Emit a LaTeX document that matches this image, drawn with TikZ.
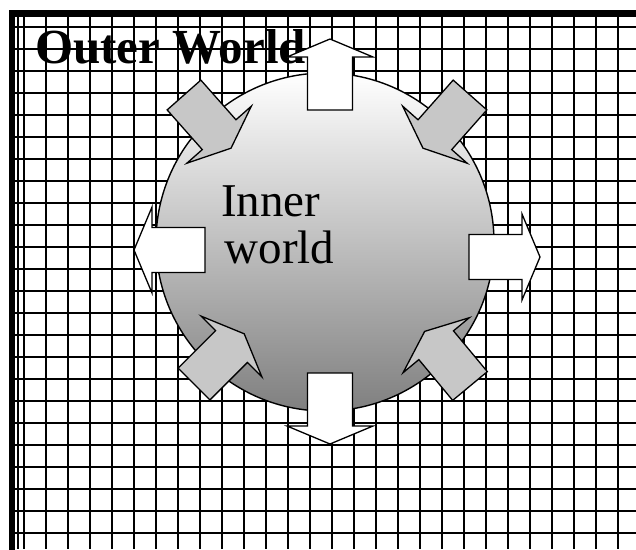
\documentclass[tikz,border=0pt]{standalone}
\usepackage{fontspec}
\setmainfont{Liberation Serif}
\usetikzlibrary{positioning}

\begin{document}
\begin{tikzpicture}[x=1pt,y=-1pt,
  gl/.style={line width=2.4pt},
  ball/.style={draw,circle,inner sep=0pt,line width=1.4pt,
    top color=white,middle color=black!18,bottom color=black!50},
  lbl/.style={inner sep=0pt,anchor=base west},
  barr/.pic={\draw[line width=1.3pt,line join=miter,pic actions]
    (0,-22.5)--(53,-22.5)--(53,-43)--(71,0)--(53,43)--(53,22.5)--(0,22.5)--cycle;}]
\useasboundingbox[fill=white] (0,0) rectangle (636,549);
% outer world grid
\begin{scope}
\clip (0,0) rectangle (636,549);
\foreach \i in {0,...,27} \draw[gl] (24+22*\i,13) -- (24+22*\i,549);
\foreach \j in {0,...,24} \draw[gl] (12,27+22*\j) -- (636,27+22*\j);
\draw[gl] (18,13) -- (18,549);
\draw[line width=6.5pt,line join=miter] (12,552) -- (12,13.5) -- (640,13.5);
\end{scope}
% inner world
\node[ball,minimum size=338pt] (sphere) at (325,242) {};
\node[lbl,font=\fontsize{49}{49}\selectfont\bfseries] (outer) at (35,63) {Outer World};
\node[lbl,font=\fontsize{47}{47}\selectfont] (inner) at (221,216.7) {Inner};
\node[lbl,font=\fontsize{47}{47}\selectfont] (world) at (224.5,263.3) {world};
% outgoing arrows
\pic[fill=white,rotate=90] at (330,110) {barr};
\pic[fill=white,rotate=-90] at (330,373) {barr};
\pic[fill=white,rotate=180] at (205,250) {barr};
\pic[fill=white,rotate=0] at (469,257) {barr};
% incoming arrows
\pic[fill=black!22,rotate=-48.5] at (184,95) {barr};
\pic[fill=black!22,rotate=-131.5] at (470,95) {barr};
\pic[fill=black!22,rotate=45] at (194,384) {barr};
\pic[fill=black!22,rotate=129.7] at (470,386) {barr};
\end{tikzpicture}
\end{document}
